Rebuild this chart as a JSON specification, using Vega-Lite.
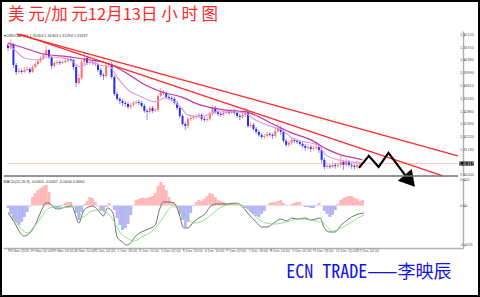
{
"$schema": "https://vega.github.io/schema/vega-lite/v6.json",
"width": 480, "height": 297, "autosize": {"type": "none"}, "padding": 0,
"background": "white",
"config": {"view": {"stroke": "black", "strokeWidth": 4}, "axis": {"grid": false}},
"title": {"text": "美 元/加 元12月13日  小 时 图", "font": "Noto Sans CJK SC", "fontSize": 16.5, "fontWeight": "normal", "color": "#ff2a2a", "anchor": "start", "frame": "group", "offset": -23.5, "dx": 8},
"datasets": {
"bars": [
{"i":0,"o":1.34826,"h":1.34885,"l":1.3465,"c":1.34738},
{"i":2,"o":1.34738,"h":1.35002,"l":1.34708,"c":1.34855},
{"i":4,"o":1.34855,"h":1.34885,"l":1.3415,"c":1.34238},
{"i":6,"o":1.34238,"h":1.34297,"l":1.33944,"c":1.34032},
{"i":8,"o":1.34032,"h":1.3415,"l":1.33973,"c":1.34062},
{"i":10,"o":1.34062,"h":1.3412,"l":1.33973,"c":1.34032},
{"i":12,"o":1.34032,"h":1.34179,"l":1.34003,"c":1.34091},
{"i":14,"o":1.34091,"h":1.34209,"l":1.34062,"c":1.3412},
{"i":16,"o":1.3412,"h":1.34179,"l":1.33973,"c":1.34032},
{"i":18,"o":1.34032,"h":1.34238,"l":1.34003,"c":1.34179},
{"i":20,"o":1.34179,"h":1.34326,"l":1.3415,"c":1.34267},
{"i":22,"o":1.34267,"h":1.34414,"l":1.34209,"c":1.34356},
{"i":24,"o":1.34356,"h":1.34503,"l":1.34297,"c":1.34444},
{"i":26,"o":1.34444,"h":1.34591,"l":1.34385,"c":1.34532},
{"i":28,"o":1.34532,"h":1.34797,"l":1.34473,"c":1.34679},
{"i":30,"o":1.34679,"h":1.34708,"l":1.34414,"c":1.34473},
{"i":32,"o":1.34473,"h":1.34503,"l":1.3412,"c":1.34209},
{"i":34,"o":1.34209,"h":1.34356,"l":1.3415,"c":1.34297},
{"i":36,"o":1.34297,"h":1.34385,"l":1.34238,"c":1.34326},
{"i":38,"o":1.34326,"h":1.34385,"l":1.34238,"c":1.34297},
{"i":40,"o":1.34297,"h":1.34385,"l":1.34267,"c":1.34326},
{"i":42,"o":1.34326,"h":1.34414,"l":1.34297,"c":1.34356},
{"i":44,"o":1.34356,"h":1.34473,"l":1.34326,"c":1.34414},
{"i":46,"o":1.34414,"h":1.34503,"l":1.34326,"c":1.34385},
{"i":48,"o":1.34385,"h":1.34414,"l":1.34091,"c":1.34179},
{"i":50,"o":1.34179,"h":1.34238,"l":1.33591,"c":1.33709},
{"i":52,"o":1.33709,"h":1.33973,"l":1.3365,"c":1.33856},
{"i":54,"o":1.33856,"h":1.34385,"l":1.33797,"c":1.34326},
{"i":56,"o":1.34326,"h":1.34591,"l":1.34267,"c":1.34444},
{"i":58,"o":1.34444,"h":1.34503,"l":1.34238,"c":1.34297},
{"i":60,"o":1.34297,"h":1.34385,"l":1.34238,"c":1.34326},
{"i":62,"o":1.34326,"h":1.34385,"l":1.34238,"c":1.34297},
{"i":64,"o":1.34297,"h":1.34356,"l":1.34209,"c":1.34267},
{"i":66,"o":1.34267,"h":1.34297,"l":1.34032,"c":1.34091},
{"i":68,"o":1.34091,"h":1.3415,"l":1.33885,"c":1.33944},
{"i":70,"o":1.33944,"h":1.34003,"l":1.33797,"c":1.33915},
{"i":72,"o":1.33915,"h":1.34297,"l":1.33856,"c":1.34238},
{"i":74,"o":1.34238,"h":1.34356,"l":1.34179,"c":1.34267},
{"i":76,"o":1.34267,"h":1.34326,"l":1.33826,"c":1.33885},
{"i":78,"o":1.33885,"h":1.33944,"l":1.33327,"c":1.33385},
{"i":80,"o":1.33385,"h":1.33444,"l":1.3318,"c":1.33238},
{"i":82,"o":1.33238,"h":1.33297,"l":1.33091,"c":1.3318},
{"i":84,"o":1.3318,"h":1.33238,"l":1.33033,"c":1.33121},
{"i":86,"o":1.33121,"h":1.3318,"l":1.33003,"c":1.33091},
{"i":88,"o":1.33091,"h":1.3315,"l":1.32944,"c":1.33003},
{"i":90,"o":1.33003,"h":1.33121,"l":1.32944,"c":1.33062},
{"i":92,"o":1.33062,"h":1.3318,"l":1.33033,"c":1.33121},
{"i":94,"o":1.33121,"h":1.33209,"l":1.33091,"c":1.3315},
{"i":96,"o":1.3315,"h":1.33209,"l":1.33062,"c":1.33121},
{"i":98,"o":1.33121,"h":1.3318,"l":1.32974,"c":1.33033},
{"i":100,"o":1.33033,"h":1.33091,"l":1.32827,"c":1.32886},
{"i":102,"o":1.32886,"h":1.32944,"l":1.32621,"c":1.32856},
{"i":104,"o":1.32856,"h":1.33033,"l":1.32797,"c":1.32974},
{"i":106,"o":1.32974,"h":1.33033,"l":1.32827,"c":1.32886},
{"i":108,"o":1.32886,"h":1.32974,"l":1.32856,"c":1.32915},
{"i":110,"o":1.32915,"h":1.33385,"l":1.32856,"c":1.33327},
{"i":112,"o":1.33327,"h":1.33562,"l":1.33297,"c":1.33444},
{"i":114,"o":1.33444,"h":1.33503,"l":1.33356,"c":1.33415},
{"i":116,"o":1.33415,"h":1.33474,"l":1.33238,"c":1.33297},
{"i":118,"o":1.33297,"h":1.33356,"l":1.33209,"c":1.33268},
{"i":120,"o":1.33268,"h":1.33327,"l":1.3318,"c":1.33238},
{"i":122,"o":1.33238,"h":1.33297,"l":1.33062,"c":1.33121},
{"i":124,"o":1.33121,"h":1.3318,"l":1.32915,"c":1.32974},
{"i":126,"o":1.32974,"h":1.33033,"l":1.3268,"c":1.32739},
{"i":128,"o":1.32739,"h":1.32797,"l":1.32445,"c":1.32503},
{"i":130,"o":1.32503,"h":1.32562,"l":1.32327,"c":1.32445},
{"i":132,"o":1.32445,"h":1.32709,"l":1.32386,"c":1.3265},
{"i":134,"o":1.3265,"h":1.32739,"l":1.32592,"c":1.3268},
{"i":136,"o":1.3268,"h":1.32768,"l":1.32621,"c":1.32709},
{"i":138,"o":1.32709,"h":1.32797,"l":1.3265,"c":1.32739},
{"i":140,"o":1.32739,"h":1.32827,"l":1.3268,"c":1.32768},
{"i":142,"o":1.32768,"h":1.32827,"l":1.32592,"c":1.3265},
{"i":144,"o":1.3265,"h":1.32709,"l":1.32562,"c":1.32621},
{"i":146,"o":1.32621,"h":1.32709,"l":1.32562,"c":1.3265},
{"i":148,"o":1.3265,"h":1.32856,"l":1.32592,"c":1.32797},
{"i":150,"o":1.32797,"h":1.33062,"l":1.32739,"c":1.32974},
{"i":152,"o":1.32974,"h":1.33033,"l":1.32797,"c":1.32856},
{"i":154,"o":1.32856,"h":1.32915,"l":1.32739,"c":1.32797},
{"i":156,"o":1.32797,"h":1.32856,"l":1.32709,"c":1.32768},
{"i":158,"o":1.32768,"h":1.32886,"l":1.32739,"c":1.32827},
{"i":160,"o":1.32827,"h":1.32915,"l":1.32797,"c":1.32856},
{"i":162,"o":1.32856,"h":1.32915,"l":1.32768,"c":1.32827},
{"i":164,"o":1.32827,"h":1.32944,"l":1.32797,"c":1.32886},
{"i":166,"o":1.32886,"h":1.32944,"l":1.32768,"c":1.32827},
{"i":168,"o":1.32827,"h":1.32886,"l":1.3268,"c":1.32739},
{"i":170,"o":1.32739,"h":1.32797,"l":1.32621,"c":1.32709},
{"i":172,"o":1.32709,"h":1.32827,"l":1.3265,"c":1.32768},
{"i":174,"o":1.32768,"h":1.32974,"l":1.32709,"c":1.32856},
{"i":176,"o":1.32856,"h":1.32915,"l":1.32386,"c":1.32445},
{"i":178,"o":1.32445,"h":1.32562,"l":1.32386,"c":1.32474},
{"i":180,"o":1.32474,"h":1.32533,"l":1.32298,"c":1.32356},
{"i":182,"o":1.32356,"h":1.32415,"l":1.32209,"c":1.32268},
{"i":184,"o":1.32268,"h":1.32327,"l":1.32121,"c":1.3218},
{"i":186,"o":1.3218,"h":1.32239,"l":1.32062,"c":1.32121},
{"i":188,"o":1.32121,"h":1.32209,"l":1.32062,"c":1.32151},
{"i":190,"o":1.32151,"h":1.32268,"l":1.32092,"c":1.32209},
{"i":192,"o":1.32209,"h":1.32268,"l":1.32121,"c":1.3218},
{"i":194,"o":1.3218,"h":1.32239,"l":1.32062,"c":1.32151},
{"i":196,"o":1.32151,"h":1.32386,"l":1.32092,"c":1.32298},
{"i":198,"o":1.32298,"h":1.32533,"l":1.32239,"c":1.32386},
{"i":200,"o":1.32386,"h":1.32445,"l":1.3218,"c":1.32268},
{"i":202,"o":1.32268,"h":1.32327,"l":1.31945,"c":1.32004},
{"i":204,"o":1.32004,"h":1.32062,"l":1.31827,"c":1.31886},
{"i":206,"o":1.31886,"h":1.32004,"l":1.31827,"c":1.31945},
{"i":208,"o":1.31945,"h":1.32092,"l":1.31886,"c":1.32033},
{"i":210,"o":1.32033,"h":1.32092,"l":1.31945,"c":1.32004},
{"i":212,"o":1.32004,"h":1.32062,"l":1.31915,"c":1.31974},
{"i":214,"o":1.31974,"h":1.32033,"l":1.31857,"c":1.31915},
{"i":216,"o":1.31915,"h":1.31974,"l":1.31798,"c":1.31857},
{"i":218,"o":1.31857,"h":1.31915,"l":1.3171,"c":1.31798},
{"i":220,"o":1.31798,"h":1.31915,"l":1.31739,"c":1.31827},
{"i":222,"o":1.31827,"h":1.31886,"l":1.3168,"c":1.31768},
{"i":224,"o":1.31768,"h":1.31857,"l":1.3171,"c":1.31798},
{"i":226,"o":1.31798,"h":1.31945,"l":1.31739,"c":1.31827},
{"i":228,"o":1.31827,"h":1.31886,"l":1.31651,"c":1.31739},
{"i":230,"o":1.31739,"h":1.31798,"l":1.31357,"c":1.31445},
{"i":232,"o":1.31445,"h":1.31504,"l":1.31151,"c":1.31239},
{"i":234,"o":1.31239,"h":1.31327,"l":1.3118,"c":1.31269},
{"i":236,"o":1.31269,"h":1.31327,"l":1.3118,"c":1.31239},
{"i":238,"o":1.31239,"h":1.31386,"l":1.3121,"c":1.31298},
{"i":240,"o":1.31298,"h":1.31357,"l":1.3118,"c":1.31269},
{"i":242,"o":1.31269,"h":1.31357,"l":1.3121,"c":1.31298},
{"i":244,"o":1.31298,"h":1.31563,"l":1.31239,"c":1.31386},
{"i":246,"o":1.31386,"h":1.31445,"l":1.31151,"c":1.31298},
{"i":248,"o":1.31298,"h":1.31504,"l":1.31239,"c":1.31386},
{"i":250,"o":1.31386,"h":1.31445,"l":1.31239,"c":1.31298},
{"i":252,"o":1.31298,"h":1.31357,"l":1.3118,"c":1.31269},
{"i":254,"o":1.31269,"h":1.31327,"l":1.31151,"c":1.31239},
{"i":256,"o":1.31239,"h":1.31416,"l":1.3118,"c":1.31298},
{"i":258,"o":1.31298,"h":1.31386,"l":1.31269,"c":1.31327}
],
"ma": [
{"s":"slow","i":0,"p":1.34885},{"s":"slow","i":12,"p":1.34738},{"s":"slow","i":26,"p":1.34561},{"s":"slow","i":46,"p":1.34473},{"s":"slow","i":60,"p":1.34385},{"s":"slow","i":70,"p":1.34326},{"s":"slow","i":79,"p":1.34179},{"s":"slow","i":88,"p":1.33973},{"s":"slow","i":98,"p":1.33709},{"s":"slow","i":113,"p":1.33444},{"s":"slow","i":127,"p":1.33297},{"s":"slow","i":141,"p":1.33062},{"s":"slow","i":158,"p":1.32915},{"s":"slow","i":175,"p":1.32856},{"s":"slow","i":184,"p":1.32709},{"s":"slow","i":194,"p":1.32503},{"s":"slow","i":208,"p":1.32239},{"s":"slow","i":222,"p":1.32033},{"s":"slow","i":235,"p":1.31739},{"s":"slow","i":244,"p":1.31592},{"s":"slow","i":254,"p":1.31504},{"s":"slow","i":260,"p":1.31445},
{"s":"fast","i":0,"p":1.34826},{"s":"fast","i":5,"p":1.34679},{"s":"fast","i":12,"p":1.34444},{"s":"fast","i":22,"p":1.34385},{"s":"fast","i":29,"p":1.34473},{"s":"fast","i":39,"p":1.34444},{"s":"fast","i":46,"p":1.34385},{"s":"fast","i":53,"p":1.34179},{"s":"fast","i":60,"p":1.34326},{"s":"fast","i":67,"p":1.34238},{"s":"fast","i":75,"p":1.34179},{"s":"fast","i":80,"p":1.33885},{"s":"fast","i":88,"p":1.33503},{"s":"fast","i":98,"p":1.33297},{"s":"fast","i":108,"p":1.3315},{"s":"fast","i":115,"p":1.33268},{"s":"fast","i":125,"p":1.33062},{"s":"fast","i":132,"p":1.32768},{"s":"fast","i":141,"p":1.32709},{"s":"fast","i":153,"p":1.32856},{"s":"fast","i":165,"p":1.32856},{"s":"fast","i":174,"p":1.32827},{"s":"fast","i":179,"p":1.3268},{"s":"fast","i":194,"p":1.32415},{"s":"fast","i":201,"p":1.32327},{"s":"fast","i":208,"p":1.32092},{"s":"fast","i":218,"p":1.31974},{"s":"fast","i":227,"p":1.31886},{"s":"fast","i":233,"p":1.31592},{"s":"fast","i":242,"p":1.31445},{"s":"fast","i":251,"p":1.31386},{"s":"fast","i":260,"p":1.31357}
],
"trend": [
{"s":"up","i":6.5,"p":1.35149},{"s":"up","i":330,"p":1.31563},
{"s":"low","i":8.6,"p":1.35149},{"s":"low","i":319,"p":1.30975}
],
"zigzag": [
{"i":257.4,"p":1.3121},{"i":264.6,"p":1.31563},{"i":271.8,"p":1.31239},{"i":279,"p":1.31651},{"i":291.1,"p":1.31004}
],
"arrow": [{"i":294.7,"p":1.30828}],
"last": [{"p":1.31337,"label":"1.31337"}],
"plabels": [
{"p":1.3512,"t":"1.35120"},{"p":1.3475,"t":"1.34750"},{"p":1.3438,"t":"1.34380"},{"p":1.3399,"t":"1.33990"},{"p":1.3361,"t":"1.33610"},{"p":1.3324,"t":"1.33240"},{"p":1.3286,"t":"1.32860"},{"p":1.3249,"t":"1.32490"},{"p":1.3212,"t":"1.32120"},{"p":1.3174,"t":"1.31740"},{"p":1.31,"t":"1.31000"}
],
"mlabels": [
{"v":0.002,"t":"0.002"},{"v":0,"t":"0.00"},{"v":-0.0031,"t":"-0.0031"}
],
"xlabels": [
{"i":0,"t":"28 Nov 2016"},{"i":16,"t":"29 Nov 02:00"},{"i":32,"t":"29 Nov 18:00"},{"i":48,"t":"30 Nov 10:00"},{"i":64,"t":"1 Dec 02:00"},{"i":80,"t":"1 Dec 18:00"},{"i":96,"t":"2 Dec 10:00"},{"i":112,"t":"5 Dec 02:00"},{"i":128,"t":"5 Dec 18:00"},{"i":144,"t":"6 Dec 10:00"},{"i":160,"t":"7 Dec 02:00"},{"i":176,"t":"7 Dec 18:00"},{"i":192,"t":"8 Dec 10:00"},{"i":208,"t":"9 Dec 02:00"},{"i":224,"t":"9 Dec 18:00"},{"i":240,"t":"12 Dec 10:00"},{"i":256,"t":"13 Dec 02:00"}
],
"hist": [
{"i":0,"v":-0.000196},{"i":2,"v":-0.000666},{"i":4,"v":-0.001058},{"i":6,"v":-0.001294},{"i":8,"v":-0.001529},{"i":10,"v":-0.001294},{"i":12,"v":-0.000902},{"i":14,"v":-0.00051},{"i":16,"v":-0.000078},{"i":18,"v":0.000666},{"i":20,"v":0.00098},{"i":22,"v":0.001215},{"i":24,"v":0.001372},{"i":26,"v":0.001529},{"i":28,"v":0.001607},{"i":30,"v":0.001058},{"i":32,"v":0.000039},{"i":34,"v":-0.000196},{"i":36,"v":-0.000196},{"i":38,"v":-0.000118},{"i":40,"v":-0.000039},{"i":42,"v":0.000196},{"i":44,"v":0.000274},{"i":46,"v":0.000274},{"i":48,"v":0.000039},{"i":50,"v":-0.000588},{"i":52,"v":-0.001137},{"i":54,"v":-0.00051},{"i":56,"v":0.000118},{"i":58,"v":0.000353},{"i":60,"v":0.000666},{"i":62,"v":0.000588},{"i":64,"v":0.000274},{"i":66,"v":-0.000039},{"i":68,"v":-0.000353},{"i":70,"v":-0.000431},{"i":72,"v":-0.000118},{"i":74,"v":0.000196},{"i":76,"v":0.000039},{"i":78,"v":-0.000353},{"i":80,"v":-0.00098},{"i":82,"v":-0.001529},{"i":84,"v":-0.001921},{"i":86,"v":-0.001764},{"i":88,"v":-0.00145},{"i":90,"v":-0.000745},{"i":92,"v":-0.000039},{"i":94,"v":0.000431},{"i":96,"v":0.00051},{"i":98,"v":0.000588},{"i":100,"v":0.000588},{"i":102,"v":0.000588},{"i":104,"v":0.000666},{"i":106,"v":0.000745},{"i":108,"v":0.00098},{"i":110,"v":0.001529},{"i":112,"v":0.001842},{"i":114,"v":0.001607},{"i":116,"v":0.001215},{"i":118,"v":0.000666},{"i":120,"v":0.000274},{"i":122,"v":0.000118},{"i":124,"v":-0.000196},{"i":126,"v":-0.000666},{"i":128,"v":-0.001137},{"i":130,"v":-0.001686},{"i":132,"v":-0.001294},{"i":134,"v":-0.000588},{"i":136,"v":-0.000039},{"i":138,"v":0.000274},{"i":140,"v":0.000431},{"i":142,"v":0.000353},{"i":144,"v":0.00051},{"i":146,"v":0.000745},{"i":148,"v":0.00098},{"i":150,"v":0.000902},{"i":152,"v":0.000666},{"i":154,"v":0.000431},{"i":156,"v":0.000353},{"i":158,"v":0.000274},{"i":160,"v":0.000196},{"i":162,"v":0.000196},{"i":164,"v":0.000196},{"i":166,"v":0.000196},{"i":168,"v":0.000118},{"i":170,"v":0.000039},{"i":172,"v":-0.000039},{"i":174,"v":-0.000196},{"i":176,"v":-0.000274},{"i":178,"v":-0.00051},{"i":180,"v":-0.000666},{"i":182,"v":-0.000823},{"i":184,"v":-0.000902},{"i":186,"v":-0.000666},{"i":188,"v":-0.000431},{"i":190,"v":0.000039},{"i":192,"v":0.000196},{"i":194,"v":0.000274},{"i":196,"v":0.000274},{"i":198,"v":0.000353},{"i":200,"v":0.000431},{"i":202,"v":0.000196},{"i":204,"v":-0.000039},{"i":206,"v":0.000039},{"i":208,"v":0.000118},{"i":210,"v":0.000196},{"i":212,"v":0.000274},{"i":214,"v":0.000274},{"i":216,"v":0.000039},{"i":218,"v":-0.000118},{"i":220,"v":-0.000118},{"i":222,"v":-0.000196},{"i":224,"v":-0.000196},{"i":226,"v":-0.000039},{"i":228,"v":0.000196},{"i":230,"v":0.000039},{"i":232,"v":-0.000431},{"i":234,"v":-0.000666},{"i":236,"v":-0.000902},{"i":238,"v":-0.000745},{"i":240,"v":-0.000353},{"i":242,"v":0.000118},{"i":244,"v":0.000431},{"i":246,"v":0.000588},{"i":248,"v":0.000666},{"i":250,"v":0.000745},{"i":252,"v":0.000745},{"i":254,"v":0.000588},{"i":256,"v":0.00051},{"i":258,"v":0.000353},{"i":260,"v":0.000431}
],
"macd": [
{"s":"macd","i":0,"v":-0.000588},{"s":"macd","i":5,"v":-0.001372},{"s":"macd","i":9,"v":-0.002156},{"s":"macd","i":12,"v":-0.002391},{"s":"macd","i":16,"v":-0.002156},{"s":"macd","i":21,"v":-0.001294},{"s":"macd","i":24,"v":-0.00051},{"s":"macd","i":28,"v":0.000196},{"s":"macd","i":30,"v":0.000196},{"s":"macd","i":34,"v":-0.000196},{"s":"macd","i":37,"v":-0.000274},{"s":"macd","i":42,"v":-0.000118},{"s":"macd","i":47,"v":-0.000039},{"s":"macd","i":49,"v":-0.000588},{"s":"macd","i":52,"v":-0.001372},{"s":"macd","i":55,"v":-0.00051},{"s":"macd","i":59,"v":-0.000118},{"s":"macd","i":62,"v":-0.000039},{"s":"macd","i":66,"v":-0.000353},{"s":"macd","i":70,"v":-0.000823},{"s":"macd","i":73,"v":-0.000196},{"s":"macd","i":77,"v":-0.000588},{"s":"macd","i":80,"v":-0.00247},{"s":"macd","i":84,"v":-0.002862},{"s":"macd","i":87,"v":-0.003097},{"s":"macd","i":90,"v":-0.00294},{"s":"macd","i":93,"v":-0.00247},{"s":"macd","i":98,"v":-0.002078},{"s":"macd","i":103,"v":-0.001842},{"s":"macd","i":108,"v":-0.001529},{"s":"macd","i":111,"v":-0.000353},{"s":"macd","i":114,"v":0.000274},{"s":"macd","i":118,"v":0.000274},{"s":"macd","i":122,"v":0.000196},{"s":"macd","i":125,"v":-0.00051},{"s":"macd","i":129,"v":-0.001764},{"s":"macd","i":132,"v":-0.001764},{"s":"macd","i":136,"v":-0.001294},{"s":"macd","i":140,"v":-0.00098},{"s":"macd","i":145,"v":-0.000588},{"s":"macd","i":148,"v":-0.000118},{"s":"macd","i":153,"v":0.000118},{"s":"macd","i":161,"v":0.000118},{"s":"macd","i":168,"v":0.000196},{"s":"macd","i":172,"v":-0.000118},{"s":"macd","i":177,"v":-0.000745},{"s":"macd","i":182,"v":-0.001294},{"s":"macd","i":186,"v":-0.001686},{"s":"macd","i":190,"v":-0.001686},{"s":"macd","i":195,"v":-0.001372},{"s":"macd","i":200,"v":-0.001058},{"s":"macd","i":204,"v":-0.001215},{"s":"macd","i":208,"v":-0.00098},{"s":"macd","i":213,"v":-0.001058},{"s":"macd","i":218,"v":-0.00098},{"s":"macd","i":222,"v":-0.001137},{"s":"macd","i":229,"v":-0.00098},{"s":"macd","i":232,"v":-0.001764},{"s":"macd","i":236,"v":-0.002078},{"s":"macd","i":240,"v":-0.002078},{"s":"macd","i":243,"v":-0.001686},{"s":"macd","i":247,"v":-0.001294},{"s":"macd","i":252,"v":-0.000902},{"s":"macd","i":257,"v":-0.000666},{"s":"macd","i":261,"v":-0.000588},
{"s":"signal","i":0,"v":-0.00051},{"s":"signal","i":5,"v":-0.001137},{"s":"signal","i":10,"v":-0.001842},{"s":"signal","i":14,"v":-0.002156},{"s":"signal","i":19,"v":-0.001686},{"s":"signal","i":24,"v":-0.00098},{"s":"signal","i":29,"v":-0.000274},{"s":"signal","i":34,"v":-0.000118},{"s":"signal","i":39,"v":-0.000196},{"s":"signal","i":47,"v":-0.000118},{"s":"signal","i":52,"v":-0.00051},{"s":"signal","i":55,"v":-0.000902},{"s":"signal","i":60,"v":-0.00051},{"s":"signal","i":66,"v":-0.000353},{"s":"signal","i":72,"v":-0.00051},{"s":"signal","i":78,"v":-0.001294},{"s":"signal","i":82,"v":-0.002078},{"s":"signal","i":87,"v":-0.002548},{"s":"signal","i":93,"v":-0.002783},{"s":"signal","i":98,"v":-0.00247},{"s":"signal","i":105,"v":-0.002078},{"s":"signal","i":111,"v":-0.001372},{"s":"signal","i":116,"v":-0.000588},{"s":"signal","i":121,"v":-0.000039},{"s":"signal","i":125,"v":-0.000196},{"s":"signal","i":131,"v":-0.000902},{"s":"signal","i":136,"v":-0.001372},{"s":"signal","i":141,"v":-0.001294},{"s":"signal","i":147,"v":-0.000902},{"s":"signal","i":153,"v":-0.000353},{"s":"signal","i":161,"v":0.000039},{"s":"signal","i":168,"v":0.000118},{"s":"signal","i":175,"v":-0.000196},{"s":"signal","i":182,"v":-0.000902},{"s":"signal","i":189,"v":-0.001372},{"s":"signal","i":196,"v":-0.00145},{"s":"signal","i":204,"v":-0.001294},{"s":"signal","i":213,"v":-0.001058},{"s":"signal","i":222,"v":-0.001137},{"s":"signal","i":231,"v":-0.001372},{"s":"signal","i":238,"v":-0.001999},{"s":"signal","i":244,"v":-0.001764},{"s":"signal","i":251,"v":-0.001372},{"s":"signal","i":258,"v":-0.000902},{"s":"signal","i":261,"v":-0.000745}
]
},
"layer": [
{
"layer": [
{"data": {"name": "last"}, "mark": {"type": "rule", "color": "#ffc8c8", "strokeWidth": 1},
 "encoding": {"x": {"datum": 0}, "x2": {"datum": 330},
  "y": {"field": "p", "type": "quantitative",
   "scale": {"domain": [1.3097, 1.35238], "range": [176, 31], "zero": false, "nice": false},
   "axis": {"orient": "right", "offset": -17, "values": [1.3512, 1.3475, 1.3438, 1.3399, 1.3361, 1.3324, 1.3286, 1.3249, 1.3212, 1.3174, 1.31], "labels": false,
    "tickSize": 2, "tickColor": "#999", "domainColor": "#b0b0b0", "domainWidth": 1.5,
    "title": "▾ USDCAD,H1  1.31303 1.31303 1.31294 1.31337", "titleX": -460, "titleY": 35, "titleAngle": 0, "titleAlign": "left", "titleBaseline": "middle", "titleFontSize": 3.8, "titleFontWeight": "normal", "titleColor": "#333"}}}},
{"data": {"name": "bars"}, "mark": {"type": "rule", "strokeWidth": 1},
 "encoding": {
  "x": {"field": "i", "type": "quantitative"},
  "y": {"field": "l", "type": "quantitative"},
  "y2": {"field": "h"},
  "color": {"condition": {"test": "datum.c >= datum.o", "value": "#ff9c9c"}, "value": "#8c8cf5"}}},
{"data": {"name": "bars"}, "mark": {"type": "bar", "width": 2},
 "encoding": {
  "x": {"field": "i", "type": "quantitative"},
  "y": {"field": "o", "type": "quantitative"},
  "y2": {"field": "c"},
  "color": {"condition": {"test": "datum.c >= datum.o", "value": "#ff6e6e"}, "value": "#2b2bf0"}}},
{"data": {"name": "ma"}, "mark": {"type": "line", "interpolate": "monotone", "strokeWidth": 1.2},
 "encoding": {
  "x": {"field": "i", "type": "quantitative"},
  "y": {"field": "p", "type": "quantitative"},
  "color": {"field": "s", "type": "nominal", "scale": {"domain": ["slow", "fast"], "range": ["#c2379b", "#d89ee6"]}, "legend": null}}},
{"data": {"name": "trend"}, "mark": {"type": "line", "color": "#ff2a2a", "strokeWidth": 1.3},
 "encoding": {
  "x": {"field": "i", "type": "quantitative"},
  "y": {"field": "p", "type": "quantitative"},
  "detail": {"field": "s"}}},
{"data": {"name": "zigzag"}, "mark": {"type": "line", "color": "black", "strokeWidth": 2.2},
 "encoding": {
  "x": {"field": "i", "type": "quantitative"},
  "y": {"field": "p", "type": "quantitative"}}},
{"data": {"name": "arrow"}, "mark": {"type": "point", "shape": "triangle-right", "filled": true, "color": "black", "opacity": 1, "size": 330, "angle": 50},
 "encoding": {
  "x": {"field": "i", "type": "quantitative"},
  "y": {"field": "p", "type": "quantitative"}}},
{"data": {"name": "last"}, "mark": {"type": "rule", "color": "#707070", "strokeWidth": 1.6},
 "encoding": {"x": {"datum": -3}, "x2": {"datum": 330}, "y": {"datum": 1.3097}}},
{"data": {"name": "plabels"}, "mark": {"type": "text", "color": "#555", "fontSize": 3.8, "align": "left", "baseline": "middle"},
 "encoding": {"x": {"datum": 331.5}, "y": {"field": "p", "type": "quantitative"}, "text": {"field": "t"}}},
{"data": {"name": "last"}, "mark": {"type": "rect", "color": "black"},
 "encoding": {"x": {"datum": 331}, "x2": {"datum": 341.5}, "y": {"datum": 1.31396}, "y2": {"datum": 1.31278}}},
{"data": {"name": "last"}, "mark": {"type": "text", "color": "white", "fontSize": 3.8, "align": "center", "baseline": "middle"},
 "encoding": {"x": {"datum": 336.2}, "y": {"field": "p", "type": "quantitative"}, "text": {"field": "label"}}}
]
},
{
"layer": [
{"data": {"name": "hist"}, "mark": {"type": "bar", "width": 3},
 "encoding": {
  "x": {"field": "i", "type": "quantitative",
   "scale": {"domain": [0, 330], "range": [3, 463], "zero": false, "nice": false},
   "axis": {"orient": "bottom", "offset": -49, "values": [0,16,32,48,64,80,96,112,128,144,160,176,192,208,224,240,256], "labels": false,
    "tickSize": 2, "tickColor": "#999", "domainColor": "#b0b0b0", "domainWidth": 1.5,
    "title": "ECN TRADE——李映辰", "titleX": 451, "titleY": 24, "titleAlign": "right", "titleAnchor": "end", "titleBaseline": "middle", "titleFont": "Noto Sans Mono CJK SC, DejaVu Sans Mono, monospace", "titleFontSize": 18, "titleFontWeight": "normal", "titleColor": "#1414e6"}},
  "y": {"field": "v", "type": "quantitative",
   "scale": {"domain": [-0.003333, 0.002157], "range": [248, 178], "zero": false, "nice": false},
   "axis": {"orient": "right", "offset": -17, "values": [0.002, 0, -0.0031], "labels": false,
    "tickSize": 2, "tickColor": "#999", "domainColor": "#b0b0b0", "domainWidth": 1.5,
    "title": "MACD(12,26,9) -0.0005 -0.0007 -0.0004 0.0000", "titleX": -460, "titleY": 181, "titleAngle": 0, "titleAlign": "left", "titleBaseline": "middle", "titleFontSize": 3.8, "titleFontWeight": "normal", "titleColor": "#333"}},
  "y2": {"datum": 0},
  "color": {"condition": {"test": "datum.v >= 0", "value": "#ffb8b8"}, "value": "#b6b6f5"}}},
{"data": {"name": "macd"}, "mark": {"type": "line", "interpolate": "monotone", "strokeWidth": 0.9},
 "encoding": {
  "x": {"field": "i", "type": "quantitative"},
  "y": {"field": "v", "type": "quantitative"},
  "color": {"field": "s", "type": "nominal", "scale": {"domain": ["macd", "signal"], "range": ["#606060", "#7fe07f"]}, "legend": null}}},
{"data": {"name": "mlabels"}, "mark": {"type": "text", "color": "#555", "fontSize": 3.8, "align": "left", "baseline": "middle"},
 "encoding": {"x": {"datum": 331.5}, "y": {"field": "v", "type": "quantitative"}, "text": {"field": "t"}}},
{"data": {"name": "xlabels"}, "mark": {"type": "text", "color": "#555", "fontSize": 3.6, "align": "left", "baseline": "middle", "dx": 0.5},
 "encoding": {"x": {"field": "i", "type": "quantitative"}, "y": {"datum": -0.00357}, "text": {"field": "t"}}}
]
}
],
"resolve": {"scale": {"y": "independent", "color": "independent"}}
}
